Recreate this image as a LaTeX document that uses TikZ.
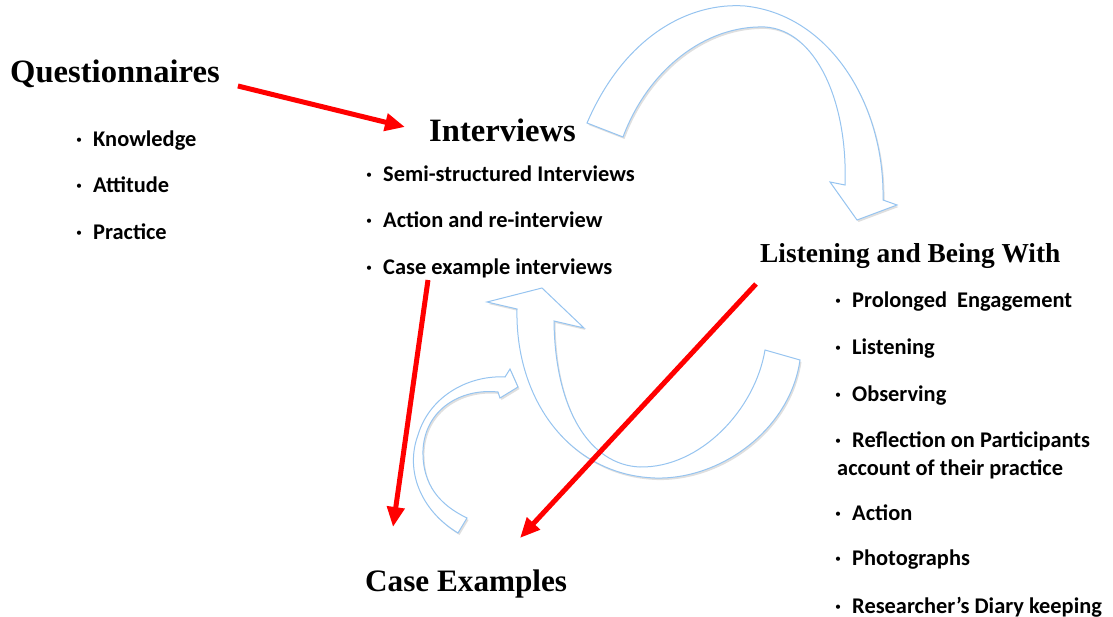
\documentclass[tikz,border=0pt]{standalone}
\usepackage{fontspec}
\setmainfont{Carlito}
\newfontfamily\headfont{Liberation Serif}
\usetikzlibrary{arrows.meta,shadows}
\definecolor{arrowblue}{RGB}{150,196,240}
\definecolor{arrowred}{RGB}{255,0,0}
\newcommand{\bul}{\makebox[17pt][l]{\textperiodcentered}}
\begin{document}
\begin{tikzpicture}[x=1pt, y=-1pt]
    \tikzset{
      heading/.style={anchor=base west, inner sep=0pt, font=\headfont\bfseries\fontsize{#1}{#1}\selectfont},
      item/.style={anchor=base west, inner sep=0pt, font=\bfseries\fontsize{22.4}{28}\selectfont},
      redarrow/.style={-{Triangle[length=20pt, width=17pt]}, line width=5pt, arrowred},
      blockarrow/.style={draw=arrowblue, line width=1pt, fill=white,
        drop shadow={opacity=0.25, shadow xshift=1.5pt, shadow yshift=-2pt}}
    }
    \useasboundingbox (0,0) rectangle (1113,617);

    % blue block arrows
    \draw[blockarrow] (587,123) .. controls (625,35) and (690,2) .. (745,6)
      .. controls (830,15) and (885,105) .. (883,200)
      -- (897,205) -- (857,220) -- (830,182) -- (845,185)
      .. controls (848,100) and (815,30) .. (765,27)
      .. controls (705,25) and (648,70) .. (623,137) -- cycle;
    \draw[blockarrow] (542,288) -- (584,328) -- (554,321)
      .. controls (555,410) and (590,465) .. (640,467)
      .. controls (700,468) and (755,410) .. (765,350)
      -- (800,360)
      .. controls (790,430) and (720,480) .. (655,478)
      .. controls (570,475) and (515,400) .. (517,309)
      -- (487,302) -- cycle;
    \draw[blockarrow] (518,387) -- (500,398) -- (498,392)
      .. controls (460,388) and (425,410) .. (423,450)
      .. controls (422,485) and (440,505) .. (467,518)
      -- (458,533)
      .. controls (420,510) and (405,470) .. (418,435)
      .. controls (430,395) and (470,375) .. (505,377)
      -- (510,369) -- cycle;

    % questionnaires
    \node[heading=32.6] (quest) at (10,83) {Questionnaires};
    \node[item] (knowledge) at (76,147) {\bul Knowledge};
    \node[item] (attitude) at (76,193) {\bul Attitude};
    \node[item] (practice) at (76,240) {\bul Practice};

    % interviews
    \node[heading=32.6] (interv) at (429,142) {Interviews};
    \node[item] (semi) at (366,182) {\bul Semi-structured Interviews};
    \node[item] (actre) at (366,228) {\bul Action and re-interview};
    \node[item] (caseint) at (366,275) {\bul Case example interviews};

    % listening and being with
    \node[heading=27.4] (listen) at (760,263) {Listening and Being With};
    \node[item] (prolonged) at (835,308) {\bul Prolonged\ \ Engagement};
    \node[item] (listening) at (835,354) {\bul Listening};
    \node[item] (observing) at (835,401) {\bul Observing};
    \node[item, align=left] (reflection) at (837,475) {\hspace{-2pt}\bul Reflection on Participants\\account of their practice};
    \node[item] (action) at (835,520) {\bul Action};
    \node[item] (photos) at (835,565) {\bul Photographs};
    \node[item] (diary) at (835,613) {\bul Researcher’s Diary keeping};

    % case examples
    \node[heading=31.2] (caseex) at (365,591) {Case Examples};

    % red arrows
    \draw[redarrow] ([shift={(18,3)}]quest.base east) -- ([shift={(-24,-15)}]interv.base west);
    \draw[redarrow] ([shift={(62,5)}]caseint.base west) -- ([shift={(28,-64)}]caseex.base west);
    \draw[redarrow] ([shift={(-4,21)}]listen.base west) -- ([shift={(155,-53)}]caseex.base west);
  \end{tikzpicture}
\end{document}
